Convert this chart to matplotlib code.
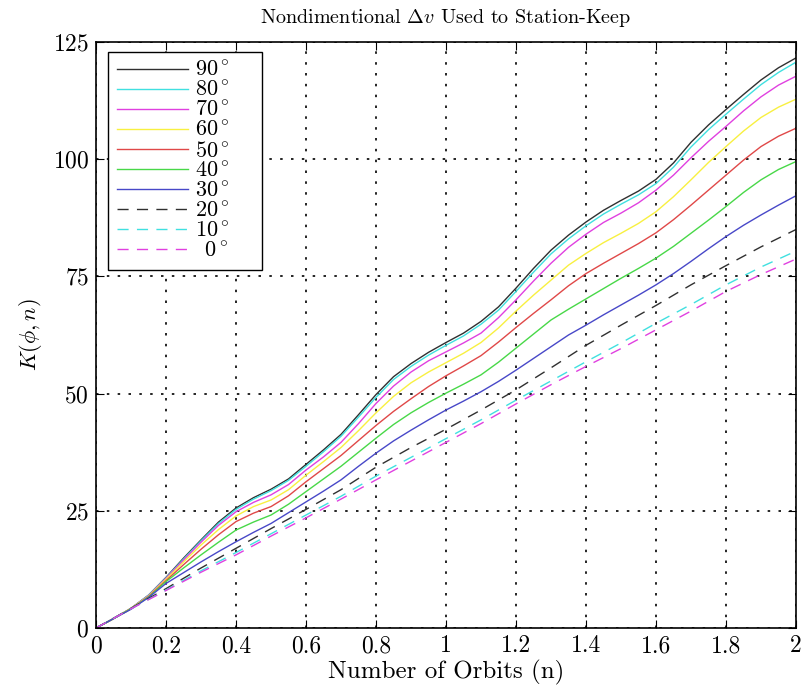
import numpy as np
import matplotlib.pyplot as plt

plt.rcParams['font.family'] = 'serif'
plt.rcParams['font.serif'] = ['cmr10', 'DejaVu Serif']
plt.rcParams['mathtext.fontset'] = 'cm'
plt.rcParams['axes.formatter.use_mathtext'] = True

# number of orbits (fine step for the solid curves, coarse for the dashed ones)
n_fine = [0.0, 0.05, 0.1, 0.15, 0.2, 0.25, 0.3, 0.35, 0.4, 0.45, 0.5,
          0.55, 0.6, 0.65, 0.7, 0.75, 0.8, 0.85, 0.9, 0.95, 1.0,
          1.05, 1.1, 1.15, 1.2, 1.25, 1.3, 1.35, 1.4, 1.45, 1.5,
          1.55, 1.6, 1.65, 1.7, 1.75, 1.8, 1.85, 1.9, 1.95, 2.0]
n_coarse = [0.0, 0.1, 0.2, 0.3, 0.4, 0.5, 0.6, 0.7, 0.8, 0.9, 1.0,
            1.1, 1.2, 1.3, 1.4, 1.5, 1.6, 1.7, 1.8, 1.9, 2.0]

# K(phi, n) for each latitude
k90 = [0, 2.0, 4.2, 7.0, 10.8, 14.9, 18.8, 22.6, 25.6, 27.8, 29.6,
       31.8, 34.9, 38.0, 41.3, 45.5, 49.8, 53.6, 56.4, 58.8, 60.9,
       62.9, 65.4, 68.5, 72.5, 76.7, 80.6, 83.8, 86.6, 89.1, 91.2,
       93.2, 95.7, 99.2, 103.6, 107.3, 110.6, 113.8, 116.9, 119.5, 121.6]
k80 = [0, 2.0, 4.2, 7.0, 10.7, 14.7, 18.6, 22.3, 25.3, 27.5, 29.3,
       31.5, 34.5, 37.6, 40.9, 45.0, 49.2, 53.0, 55.8, 58.2, 60.3,
       62.3, 64.8, 67.8, 71.8, 75.9, 79.8, 83.0, 85.8, 88.3, 90.4,
       92.4, 94.8, 98.3, 102.6, 106.3, 109.6, 112.8, 115.9, 118.5, 120.7]
k70 = [0, 2.0, 4.2, 6.9, 10.6, 14.5, 18.3, 21.9, 24.8, 26.8, 28.4,
       30.6, 33.7, 36.5, 39.6, 43.6, 47.9, 51.6, 54.6, 57.0, 58.9,
       60.8, 62.9, 66.2, 70.0, 74.0, 77.8, 81.2, 84.0, 86.5, 88.5,
       90.7, 93.4, 96.6, 100.3, 103.8, 107.0, 110.3, 113.3, 115.8, 117.7]
k60 = [0, 2.0, 4.2, 6.8, 10.4, 14.1, 17.7, 21.0, 23.9, 25.9, 27.3,
       29.5, 32.6, 35.5, 38.5, 42.1, 45.9, 49.4, 52.3, 54.6, 56.6,
       58.6, 60.9, 64.0, 67.6, 71.0, 74.2, 77.4, 79.9, 82.2, 84.2,
       86.3, 88.8, 92.0, 95.6, 99.3, 102.7, 106.0, 108.9, 111.1, 112.8]
k50 = [0, 2.0, 4.1, 6.7, 10.1, 13.5, 16.8, 19.9, 22.7, 24.5, 25.9,
       28.2, 31.2, 34.0, 36.8, 40.0, 43.2, 46.2, 48.9, 51.5, 53.8,
       55.9, 58.1, 61.0, 64.1, 67.1, 70.0, 73.0, 75.6, 77.8, 79.9,
       82.0, 84.3, 87.1, 90.2, 93.4, 96.6, 99.8, 102.7, 104.9, 106.6]
k40 = [0, 2.0, 4.1, 6.6, 9.9, 12.8, 15.6, 18.3, 20.9, 22.6, 24.1,
       26.4, 29.1, 31.8, 34.5, 37.5, 40.5, 43.4, 45.9, 48.1, 50.1,
       52.0, 54.0, 56.7, 59.7, 62.7, 65.7, 68.0, 70.2, 72.4, 74.6,
       76.7, 78.9, 81.4, 84.2, 87.0, 89.9, 92.9, 95.6, 97.8, 99.5]
k30 = [0, 2.0, 4.0, 6.5, 9.5, 11.8, 14.1, 16.3, 18.4, 20.4, 22.3,
       24.6, 26.9, 29.2, 31.6, 34.5, 37.3, 39.9, 42.2, 44.4, 46.5,
       48.4, 50.4, 52.6, 55.0, 57.5, 60.0, 62.5, 64.6, 66.8, 68.9,
       71.0, 73.2, 75.6, 78.2, 80.9, 83.5, 85.9, 88.1, 90.2, 92.2]
k20 = [0, 4.2, 8.4, 12.8, 17.0, 21.2, 25.3, 29.5, 34.3, 38.5, 42.4,
       46.5, 50.8, 55.5, 60.3, 64.6, 68.8, 73.2, 77.3, 81.3, 85.0]
k10 = [0, 4.1, 8.1, 12.2, 16.1, 20.1, 24.1, 28.1, 32.4, 36.4, 40.4,
       44.4, 48.6, 52.7, 56.8, 60.8, 65.0, 69.0, 73.2, 77.0, 80.4]
k00 = [0, 4.1, 8.0, 11.9, 15.6, 19.6, 23.5, 27.5, 31.6, 35.6, 39.6,
       43.6, 47.8, 51.9, 55.8, 59.6, 63.6, 67.6, 71.8, 75.4, 78.7]

labels = ['90', '80', '70', '60', '50', '40', '30', '20', '10', '0']
curves = [k90, k80, k70, k60, k50, k40, k30, k20, k10, k00]
colors = ['#303030', '#40e0e0', '#e040e0', '#f8f040', '#e04848',
          '#48d848', '#4848c8', '#303030', '#40e0e0', '#e040e0']

fig = plt.figure(figsize=(8.03, 6.96), dpi=100)
ax = fig.add_axes([0.1196, 0.0977, 0.8717, 0.8420])

for i in range(len(curves)):
    # right-align the legend text: pad single-digit labels
    pad = '\\enspace' if len(labels[i]) == 1 else ''
    lab = '$' + pad + labels[i] + '^\\circ$'
    if i < 7:
        ax.plot(n_fine, curves[i], color=colors[i], lw=1.0, label=lab)
    else:
        ax.plot(n_coarse, curves[i], color=colors[i], lw=1.0, dashes=(8, 6), label=lab)

ax.set_xlim(0, 2)
ax.set_ylim(0, 125)
ax.set_xticks(np.arange(0, 2.01, 0.2))
ax.set_xticklabels(['0', '0.2', '0.4', '0.6', '0.8', '1', '1.2', '1.4', '1.6', '1.8', '2'])
ax.set_yticks([0, 25, 50, 75, 100, 125])
ax.tick_params(direction='in', top=True, right=True, labelsize=17, length=6, pad=5)
ax.grid(True, color='black', linestyle=(0, (1.5, 5)), linewidth=1.2)
for s in ax.spines.values():
    s.set_linewidth(1.2)

ax.set_title('Nondimentional $\\Delta v$ Used to Station-Keep', fontsize=14.5, pad=14)
ax.set_xlabel('Number of Orbits (n)', fontsize=18, labelpad=2)
ax.set_ylabel('$K(\\phi, n)$', fontsize=16, labelpad=6)

# fixed-width legend box in the upper-left corner
leg = ax.legend(loc='upper left', bbox_to_anchor=(0.0171, 0.0, 0.22, 0.983), mode='expand',
                borderaxespad=0.0, fontsize=16, handlelength=3.2, handletextpad=0.3,
                labelspacing=0.02, fancybox=False, framealpha=1,
                edgecolor='black', borderpad=0.4)
leg.get_frame().set_linewidth(1.0)

fig.savefig('out.png', dpi=100)
